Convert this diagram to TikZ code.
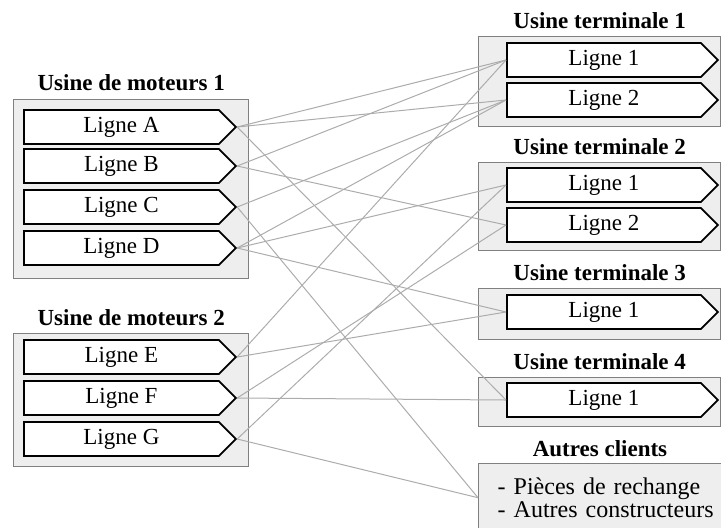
\documentclass[tikz,border=0pt]{standalone}
\usepackage{fontspec}
\setmainfont{Liberation Serif}
\usetikzlibrary{shapes.symbols,positioning}
\definecolor{boxgray}{RGB}{238,238,238}
\definecolor{edgegray}{RGB}{128,128,128}
\definecolor{linkgray}{RGB}{172,172,172}

\begin{document}
\begin{tikzpicture}[x=0.5pt, y=-0.5pt,
  usine/.style={rectangle, draw=edgegray, fill=boxgray, line width=0.7pt,
                inner sep=0pt, anchor=north west},
  ligne/.style={signal, signal to=east, signal pointer angle=90, draw=black,
                fill=white, line width=0.9pt, minimum height=17pt, inner sep=0pt,
                anchor=west, font=\fontsize{11.5}{13}\selectfont},
  titre/.style={font=\fontsize{11.5}{13}\selectfont\bfseries, inner sep=0pt},
  flux/.style={draw=linkgray, line width=0.5pt}]
\useasboundingbox (0,0) rectangle (721,527);

\node[usine, minimum width=117.5pt, minimum height=89.5pt] (m1) at (13,99) {};
\node[usine, minimum width=117.5pt, minimum height=66.5pt] (m2) at (13,333) {};
\node[usine, minimum width=121pt, minimum height=45pt] (u1) at (478,36) {};
\node[usine, minimum width=121pt, minimum height=44pt] (u2) at (478,162) {};
\node[usine, minimum width=121pt, minimum height=25.5pt] (u3) at (478,288) {};
\node[usine, minimum width=121pt, minimum height=24.5pt] (u4) at (478,377) {};
\node[usine, minimum height=34pt, text width=115pt, inner xsep=9.5pt, align=left,
      font=\fontsize{12}{10.5}\selectfont] (autres) at (478,463)
  {- Pièces de rechange\\- Autres constructeurs};

\node[titre, above=3.7pt of m1] {Usine de moteurs 1};
\node[titre, above=3.5pt of m2] {Usine de moteurs 2};
\node[titre, above=3.2pt of u1] {Usine terminale 1};
\node[titre, above=3.2pt of u2] {Usine terminale 2};
\node[titre, above=3.2pt of u3] {Usine terminale 3};
\node[titre, above=3.2pt of u4] {Usine terminale 4};
\node[titre, above=3pt of autres.north west, xshift=61pt] {Autres clients};

\node[ligne, minimum width=106pt] (lA) at (23,127) {Ligne A};
\node[ligne, minimum width=106pt] (lB) at (23,166) {Ligne B};
\node[ligne, minimum width=106pt] (lC) at (23,207) {Ligne C};
\node[ligne, minimum width=106pt] (lD) at (23,248) {Ligne D};
\node[ligne, minimum width=106pt] (lE) at (23,357) {Ligne E};
\node[ligne, minimum width=106pt] (lF) at (23,398) {Ligne F};
\node[ligne, minimum width=106pt] (lG) at (23,439) {Ligne G};

\node[ligne, minimum width=105.5pt] (t1a) at (506,60) {Ligne 1};
\node[ligne, minimum width=105.5pt] (t1b) at (506,100) {Ligne 2};
\node[ligne, minimum width=105.5pt] (t2a) at (506,185) {Ligne 1};
\node[ligne, minimum width=105.5pt] (t2b) at (506,225) {Ligne 2};
\node[ligne, minimum width=105.5pt] (t3a) at (506,312) {Ligne 1};
\node[ligne, minimum width=105.5pt] (t4a) at (506,400) {Ligne 1};

\foreach \src/\dst in {lA/t1a, lA/t1b, lA/t4a, lB/t1a, lB/t2b, lC/t1b,
                       lD/t1b, lD/t2a, lD/t3a, lE/t1a, lE/t3a, lF/t2b,
                       lF/t4a, lG/t2a}
  \draw[flux] (\src.east) -- (\dst.west);
\draw[flux] (lC.east) -- (autres.west);
\draw[flux] (lG.east) -- (autres.west);
\end{tikzpicture}
\end{document}
